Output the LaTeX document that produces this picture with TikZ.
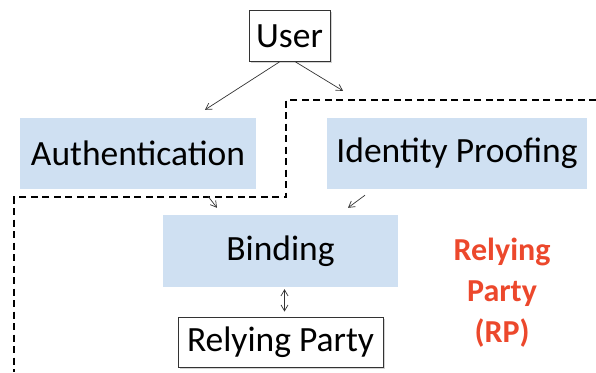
\documentclass[tikz,border=0pt]{standalone}
\usepackage{fontspec}
\setmainfont{Carlito}
\usetikzlibrary{shadows,arrows.meta}
\definecolor{boxblue}{RGB}{207,224,242}
\definecolor{rpred}{RGB}{236,72,44}

\begin{document}
\begin{tikzpicture}[x=1pt,y=-1pt,
        plainbox/.style={draw=black!80,line width=0.8pt,fill=white,inner sep=0pt,
            drop shadow={shadow xshift=1.5pt,shadow yshift=-1.5pt,opacity=0.35},
            font=\fontsize{35.5}{38}\selectfont},
        bluebox/.style={fill=boxblue,inner sep=0pt,font=\fontsize{35.5}{38}\selectfont},
        link/.style={-{Straight Barb[length=6pt,width=7pt]},line width=0.7pt,black!80}]
    \useasboundingbox (0,0) rectangle (596,372);
    % boxes
    \node[plainbox,minimum width=81pt,minimum height=51pt] (user) at (289.5,36) {User};
    \node[bluebox,minimum width=236pt,minimum height=71pt] (auth) at (138,153.5) {Authentication};
    \node[bluebox,minimum width=260pt,minimum height=71pt] (proof) at (457,153.5) {Identity Proofing};
    \node[bluebox,minimum width=235pt,minimum height=72pt] (bind) at (280.5,251) {Binding};
    \node[plainbox,minimum width=205pt,minimum height=50pt] (party) at (280.5,342) {Relying Party};
    \node[text=rpred,font=\bfseries\fontsize{32}{41}\selectfont,align=center] (rp) at (502,293) {Relying\\Party\\(RP)};
    % dashed border of the RP domain
    \draw[line width=1.5pt,dash pattern=on 7pt off 4.5pt] (596,100) -- (286,100) -- (286,197) -- (14,197) -- (14,372);
    % arrows
    \draw[link] ([xshift=-10pt]user.south) -- ([xshift=67pt,yshift=8pt]auth.north);
    \draw[link] ([xshift=6pt]user.south) -- ([xshift=-114pt,yshift=27pt]proof.north);
    \draw[link] ([xshift=70pt,yshift=-7pt]auth.south) -- ([xshift=-63.5pt,yshift=7pt]bind.north);
    \draw[link] ([xshift=-92pt,yshift=-6pt]proof.south) -- ([xshift=67.5pt,yshift=7pt]bind.north);
    \draw[link,{Straight Barb[length=6pt,width=7pt]}-{Straight Barb[length=6pt,width=7pt]}] ([xshift=4pt,yshift=-2pt]bind.south) -- ([xshift=4pt,yshift=5pt]party.north);
\end{tikzpicture}
\end{document}
